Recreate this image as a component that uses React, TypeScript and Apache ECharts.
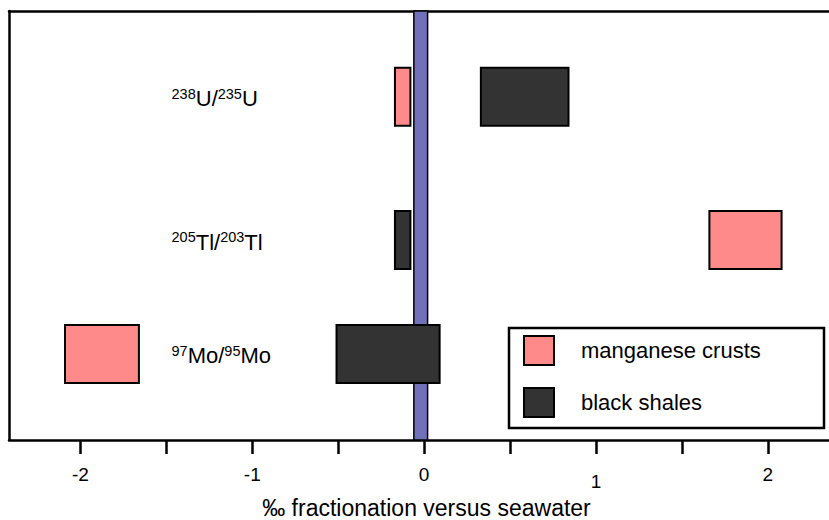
import React, { useEffect, useRef } from 'react';
import * as echarts from 'echarts';

// ---- data ----
const rowLabelParts: string[][] = [
  ['238', 'U', '235', 'U'],
  ['205', 'Tl', '203', 'Tl'],
  ['97', 'Mo', '95', 'Mo'],
];
// vertical row positions on a 0..1 hidden axis
const rowCenters = [0.8, 0.466, 0.2005];
const crustRanges: number[][] = [
  [-0.17, -0.08],
  [1.66, 2.08],
  [-2.09, -1.66],
];
const shaleRanges: number[][] = [
  [0.33, 0.84],
  [-0.17, -0.08],
  [-0.51, 0.09],
];
const seawaterRange = [-0.06, 0.02];
const xTickValues = [-2, -1.5, -1, -0.5, 0, 0.5, 1, 1.5, 2];
const xLabelValues = [-2, -1, 0, 1, 2];
const seriesNames = ['manganese crusts', 'black shales'];
const xLabelX = -1.47;

const FONT = '"Liberation Sans", Arial, Helvetica, sans-serif';
const BOX_HALF = 0.0676;

const boxRender = (params: any, api: any) => {
  const x0 = api.value(0);
  const x1 = api.value(1);
  const yc = api.value(2);
  const p0 = api.coord([x0, yc + BOX_HALF]);
  const p1 = api.coord([x1, yc - BOX_HALF]);
  return {
    type: 'rect',
    shape: { x: p0[0], y: p0[1], width: p1[0] - p0[0], height: p1[1] - p0[1] },
    style: { fill: api.visual('color'), stroke: '#000', lineWidth: 2 },
  };
};

const barRender = (params: any, api: any) => {
  const p0 = api.coord([api.value(0), 1]);
  const p1 = api.coord([api.value(1), 0]);
  return {
    type: 'rect',
    shape: { x: p0[0], y: p0[1], width: p1[0] - p0[0], height: p1[1] - p0[1] },
    style: { fill: '#7171b9', stroke: '#000', lineWidth: 1.5 },
  };
};

export default function App() {
  const ref = useRef<HTMLDivElement>(null);
  useEffect(() => {
    if (!ref.current) return;
    const chart = echarts.init(ref.current, null, { renderer: 'svg' });
    const axisLineStyle = { color: '#000', width: 2.5 };
    chart.setOption({
      animation: false,
      backgroundColor: '#fff',
      textStyle: { fontFamily: FONT },
      grid: { left: 9, right: 0, top: 11, bottom: 80, containLabel: false, outerBoundsMode: 'none' },
      legend: {
        data: seriesNames,
        orient: 'vertical',
        left: 523,
        top: 335,
        padding: 0,
        itemGap: 21,
        itemWidth: 30,
        itemHeight: 29,
        icon: 'rect',
        itemStyle: { borderColor: '#000', borderWidth: 2 },
        textStyle: { fontSize: 22, color: '#000', fontFamily: FONT, padding: [0, 0, 0, 22] },
        selectedMode: false,
      },
      graphic: [
        {
          type: 'rect',
          shape: { x: 509, y: 328, width: 315, height: 100 },
          style: { fill: 'none', stroke: '#000', lineWidth: 2.5 },
          z: 10,
        },
      ],
      xAxis: [
        {
          type: 'value',
          position: 'bottom',
          min: -2.416,
          max: 2.356,
          axisLine: { show: true, onZero: false, lineStyle: axisLineStyle },
          axisTick: {
            show: true,
            length: 14,
            customValues: xTickValues,
            lineStyle: { color: '#000', width: 2.5 },
          },
          axisLabel: {
            customValues: xLabelValues,
            fontSize: 19,
            color: '#000',
            fontFamily: FONT,
            margin: 25,
            formatter: (v: number) => (v === 1 ? '{low|1}' : String(v)),
            rich: { low: { fontSize: 19, color: '#000', fontFamily: FONT, padding: [7, 0, 0, 0] } },
          },
          splitLine: { show: false },
          name: '‰ fractionation versus seawater',
          nameLocation: 'middle',
          nameGap: 56,
          nameTextStyle: { fontSize: 23, color: '#000', fontFamily: FONT, padding: [0, 0, 0, 15] },
        },
        {
          type: 'value',
          position: 'top',
          min: -2.416,
          max: 2.356,
          axisLine: { show: true, onZero: false, lineStyle: axisLineStyle },
          axisTick: { show: false },
          axisLabel: { show: false },
          splitLine: { show: false },
        },
      ],
      yAxis: {
        type: 'value',
        min: 0,
        max: 1,
        axisLine: { show: true, onZero: false, lineStyle: axisLineStyle },
        axisTick: { show: false },
        axisLabel: { show: false },
        splitLine: { show: false },
      },
      series: [
        {
          name: 'seawater',
          type: 'custom',
          renderItem: barRender,
          data: [seawaterRange],
          encode: { x: [0, 1] },
          z: 1,
          silent: true,
        },
        {
          name: seriesNames[0],
          type: 'custom',
          renderItem: boxRender,
          itemStyle: { color: '#ff8a8a' },
          data: crustRanges.map((r, i) => [r[0], r[1], rowCenters[i]]),
          encode: { x: [0, 1], y: 2 },
          z: 3,
          silent: true,
        },
        {
          name: seriesNames[1],
          type: 'custom',
          renderItem: boxRender,
          itemStyle: { color: '#333333' },
          data: shaleRanges.map((r, i) => [r[0], r[1], rowCenters[i]]),
          encode: { x: [0, 1], y: 2 },
          z: 3,
          silent: true,
        },
        {
          name: 'labels',
          type: 'scatter',
          symbolSize: 0,
          silent: true,
          data: rowCenters.map((c) => [xLabelX, c]),
          label: {
            show: true,
            position: 'right',
            distance: 0,
            offset: [0, 2],
            color: '#000',
            opacity: 1,
            formatter: (p: any) => {
              const parts = rowLabelParts[p.dataIndex];
              return `{sup|${parts[0]}}{b|${parts[1]}/}{sup|${parts[2]}}{b|${parts[3]}}`;
            },
            rich: {
              sup: { fontSize: 14.5, lineHeight: 15, verticalAlign: 'top', color: '#000', fontFamily: FONT },
              b: { fontSize: 22, lineHeight: 25, color: '#000', fontFamily: FONT },
            },
          },
          emphasis: { disabled: true },
        },
      ],
    });
    return () => chart.dispose();
  }, []);
  return (
    <div
      ref={ref}
      style={{ position: 'absolute', left: 0, top: 0, width: 829, height: 520, background: '#fff' }}
    />
  );
}
